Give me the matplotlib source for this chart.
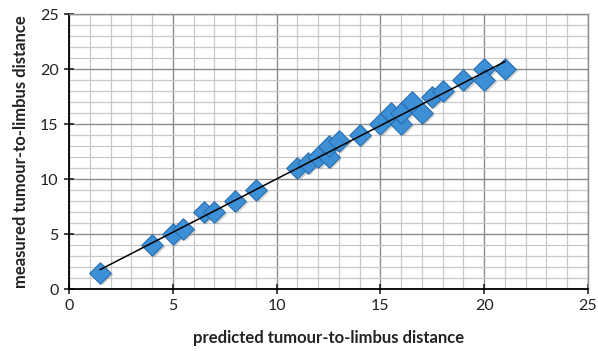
import numpy as np
import matplotlib
matplotlib.use("Agg")
import matplotlib.pyplot as plt
from matplotlib.ticker import MultipleLocator

predicted = [1.5, 4, 5, 5.5, 6.5, 7, 8, 9, 11, 11.5, 12, 12.5, 12.5, 13, 14, 15,
             15.5, 16, 16, 16.5, 17, 17.5, 18, 19, 20, 20, 21]
measured = [1.5, 4, 5, 5.5, 7, 7, 8, 9, 11, 11.5, 12, 12, 13, 13.5, 14, 15,
            16, 15, 16, 17, 16, 17.5, 18, 19, 20, 19, 20]

plt.rcParams['font.family'] = ['Lato', 'DejaVu Sans']

fig = plt.figure(figsize=(5.98, 3.51), dpi=100)
ax = fig.add_axes([0.1154, 0.1766, 0.8679, 0.7834])

ax.set_xlim(0, 25)
ax.set_ylim(0, 25)
ax.xaxis.set_major_locator(MultipleLocator(5))
ax.yaxis.set_major_locator(MultipleLocator(5))
ax.xaxis.set_minor_locator(MultipleLocator(1))
ax.yaxis.set_minor_locator(MultipleLocator(1))
ax.grid(which='major', color='#8c8c8c', linewidth=1.0)
ax.grid(which='minor', color='#c8c8c8', linewidth=0.9)
ax.set_axisbelow(True)
ax.tick_params(which='minor', length=0)
ax.tick_params(which='major', direction='inout', length=7, width=1.2,
               labelsize=11.5, colors='#222222', pad=4)

for s in ['left', 'bottom']:
    ax.spines[s].set_color('black')
    ax.spines[s].set_linewidth(1.3)
for s in ['top', 'right']:
    ax.spines[s].set_color('#8c8c8c')
    ax.spines[s].set_linewidth(1.0)

x = np.array(predicted)
y = np.array(measured)
# shadow
ax.scatter(x + 0.12, y - 0.18, marker='D', s=120, color='#9a9a9a', alpha=0.45,
           edgecolors='none', zorder=2)
ax.scatter(x, y, marker='D', s=120, color='#3d8fd6', edgecolors='#2a6fb0',
           linewidths=0.8, zorder=3)

m, b = np.polyfit(x, y, 1)
xl = np.array([x.min(), x.max()])
ax.plot(xl, m * xl + b, color='black', linewidth=1.1, zorder=4)

ax.set_xlabel('predicted tumour-to-limbus distance', fontsize=12,
              fontweight='bold', color='#222222', labelpad=12)
ax.set_ylabel('measured tumour-to-limbus distance', fontsize=12,
              fontweight='bold', color='#222222', labelpad=8)

fig.savefig('out.png', dpi=100)
